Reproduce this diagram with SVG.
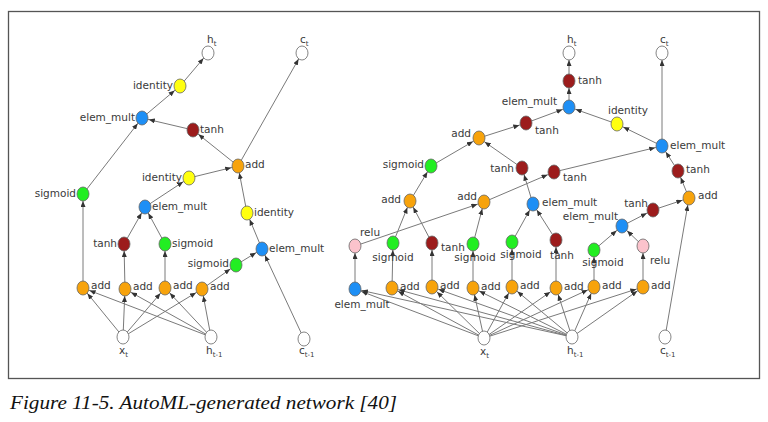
<svg xmlns="http://www.w3.org/2000/svg" width="768" height="422" viewBox="0 0 768 422">
<defs>
<marker id="ah" markerUnits="userSpaceOnUse" markerWidth="6" markerHeight="5" refX="13" refY="2.5" orient="auto">
<path d="M0,0 L6,2.5 L0,5 z" fill="#333"/>
</marker>
<style>
.e line{stroke:#7a7a7a;stroke-width:1;marker-end:url(#ah)}
.n ellipse{stroke:#666;stroke-width:0.8}
.w{fill:#fff}
.o{fill:#f7a30c}
.g{fill:#22ee22}
.r{fill:#9c1c1c}
.b{fill:#1e8ff5}
.y{fill:#ffff10}
.p{fill:#fbc3cc}
text{font-family:"DejaVu Sans",sans-serif;font-size:10.5px;fill:#3a3a3a}
.s{font-size:7px}
.m{text-anchor:middle}
.end{text-anchor:end}
.cap{font-family:"Liberation Serif",serif;font-style:italic;font-size:19px;fill:#111}
</style>
</defs>
<rect x="8.5" y="11.5" width="751" height="367" fill="#fff" stroke="#555" stroke-width="1.3"/>

<g id="connectors" class="e">
<!-- left -->
<line x1="180" y1="86" x2="208" y2="53"/>
<line x1="142" y1="118" x2="180" y2="86"/>
<line x1="193" y1="130" x2="142" y2="118"/>
<line x1="83" y1="194" x2="142" y2="118"/>
<line x1="238" y1="166" x2="193" y2="130"/>
<line x1="238" y1="166" x2="302" y2="53"/>
<line x1="189" y1="178" x2="238" y2="166"/>
<line x1="247" y1="213" x2="238" y2="166"/>
<line x1="145" y1="207" x2="189" y2="178"/>
<line x1="124" y1="244" x2="145" y2="207"/>
<line x1="165" y1="244" x2="145" y2="207"/>
<line x1="262" y1="249" x2="247" y2="213"/>
<line x1="236" y1="265" x2="262" y2="249"/>
<line x1="304" y1="339" x2="262" y2="249"/>
<line x1="83" y1="288" x2="83" y2="194"/>
<line x1="125" y1="289" x2="124" y2="244"/>
<line x1="165" y1="288" x2="165" y2="244"/>
<line x1="202" y1="289" x2="236" y2="265"/>
<line x1="123" y1="337" x2="83" y2="288"/>
<line x1="123" y1="337" x2="125" y2="289"/>
<line x1="123" y1="337" x2="165" y2="288"/>
<line x1="123" y1="337" x2="202" y2="289"/>
<line x1="211" y1="337" x2="83" y2="288"/>
<line x1="211" y1="337" x2="125" y2="289"/>
<line x1="211" y1="337" x2="165" y2="288"/>
<line x1="211" y1="337" x2="202" y2="289"/>
<!-- right -->
<line x1="569" y1="81" x2="569" y2="53"/>
<line x1="569" y1="107" x2="569" y2="81"/>
<line x1="617" y1="124" x2="569" y2="107"/>
<line x1="526" y1="123" x2="569" y2="107"/>
<line x1="662" y1="146" x2="617" y2="124"/>
<line x1="662" y1="146" x2="662" y2="53"/>
<line x1="678" y1="171" x2="662" y2="146"/>
<line x1="689" y1="198" x2="678" y2="171"/>
<line x1="554" y1="172" x2="662" y2="146"/>
<line x1="484" y1="202" x2="554" y2="172"/>
<line x1="355" y1="246" x2="484" y2="202"/>
<line x1="473" y1="244" x2="484" y2="202"/>
<line x1="479" y1="138" x2="526" y2="123"/>
<line x1="431" y1="166" x2="479" y2="138"/>
<line x1="522" y1="168" x2="479" y2="138"/>
<line x1="533" y1="204" x2="522" y2="168"/>
<line x1="410" y1="201" x2="431" y2="166"/>
<line x1="393" y1="243" x2="410" y2="201"/>
<line x1="432" y1="243" x2="410" y2="201"/>
<line x1="512" y1="242" x2="533" y2="204"/>
<line x1="556" y1="240" x2="533" y2="204"/>
<line x1="622" y1="226" x2="653" y2="210"/>
<line x1="653" y1="210" x2="689" y2="198"/>
<line x1="665" y1="337" x2="689" y2="198"/>
<line x1="594" y1="250" x2="622" y2="226"/>
<line x1="643" y1="246" x2="622" y2="226"/>
<line x1="355" y1="289" x2="355" y2="246"/>
<line x1="392" y1="288" x2="393" y2="243"/>
<line x1="432" y1="287" x2="432" y2="243"/>
<line x1="473" y1="288" x2="473" y2="244"/>
<line x1="512" y1="287" x2="512" y2="242"/>
<line x1="556" y1="288" x2="556" y2="240"/>
<line x1="594" y1="287" x2="594" y2="250"/>
<line x1="643" y1="287" x2="643" y2="246"/>
<line x1="484" y1="338" x2="355" y2="289"/>
<line x1="484" y1="338" x2="392" y2="288"/>
<line x1="484" y1="338" x2="432" y2="287"/>
<line x1="484" y1="338" x2="473" y2="288"/>
<line x1="484" y1="338" x2="512" y2="287"/>
<line x1="484" y1="338" x2="556" y2="288"/>
<line x1="484" y1="338" x2="594" y2="287"/>
<line x1="484" y1="338" x2="643" y2="287"/>
<line x1="572" y1="337" x2="355" y2="289"/>
<line x1="572" y1="337" x2="392" y2="288"/>
<line x1="572" y1="337" x2="432" y2="287"/>
<line x1="572" y1="337" x2="473" y2="288"/>
<line x1="572" y1="337" x2="512" y2="287"/>
<line x1="572" y1="337" x2="556" y2="288"/>
<line x1="572" y1="337" x2="594" y2="287"/>
<line x1="572" y1="337" x2="643" y2="287"/>
</g>

<!-- left graph nodes -->
<g id="L_ht" class="n"><ellipse class="w" cx="208" cy="53" rx="6" ry="7"/><text x="207" y="43">h<tspan class="s" dy="3">t</tspan></text></g>
<g id="L_ct" class="n"><ellipse class="w" cx="302" cy="53" rx="6" ry="7"/><text x="300" y="43">c<tspan class="s" dy="3">t</tspan></text></g>
<g id="L_id1" class="n"><ellipse class="y" cx="180" cy="86" rx="6" ry="7"/><text class="end" x="173" y="89">identity</text></g>
<g id="L_em1" class="n"><ellipse class="b" cx="142" cy="118" rx="6" ry="7"/><text class="end" x="135" y="121">elem_mult</text></g>
<g id="L_tanh1" class="n"><ellipse class="r" cx="193" cy="130" rx="6" ry="7"/><text x="200" y="133">tanh</text></g>
<g id="L_add1" class="n"><ellipse class="o" cx="238" cy="166" rx="6" ry="7"/><text x="245" y="168">add</text></g>
<g id="L_id2" class="n"><ellipse class="y" cx="189" cy="178" rx="6" ry="7"/><text class="end" x="182" y="181">identity</text></g>
<g id="L_sig1" class="n"><ellipse class="g" cx="83" cy="194" rx="6" ry="7"/><text class="end" x="76" y="197">sigmoid</text></g>
<g id="L_em2" class="n"><ellipse class="b" cx="145" cy="207" rx="6" ry="7"/><text x="152" y="210">elem_mult</text></g>
<g id="L_id3" class="n"><ellipse class="y" cx="247" cy="213" rx="6" ry="7"/><text x="254" y="216">identity</text></g>
<g id="L_tanh2" class="n"><ellipse class="r" cx="124" cy="244" rx="6" ry="7"/><text class="end" x="117" y="247">tanh</text></g>
<g id="L_sig2" class="n"><ellipse class="g" cx="165" cy="244" rx="6" ry="7"/><text x="172" y="247">sigmoid</text></g>
<g id="L_em3" class="n"><ellipse class="b" cx="262" cy="249" rx="6" ry="7"/><text x="269" y="252">elem_mult</text></g>
<g id="L_sig3" class="n"><ellipse class="g" cx="236" cy="265" rx="6" ry="7"/><text class="end" x="229" y="267">sigmoid</text></g>
<g id="L_a1" class="n"><ellipse class="o" cx="83" cy="288" rx="6" ry="7"/><text x="91" y="289">add</text></g>
<g id="L_a2" class="n"><ellipse class="o" cx="125" cy="289" rx="6" ry="7"/><text x="133" y="290">add</text></g>
<g id="L_a3" class="n"><ellipse class="o" cx="165" cy="288" rx="6" ry="7"/><text x="173" y="289">add</text></g>
<g id="L_a4" class="n"><ellipse class="o" cx="202" cy="289" rx="6" ry="7"/><text x="210" y="290">add</text></g>
<g id="L_xt" class="n"><ellipse class="w" cx="123" cy="337" rx="6" ry="7"/><text x="119" y="354">x<tspan class="s" dy="3">t</tspan></text></g>
<g id="L_ht1" class="n"><ellipse class="w" cx="211" cy="337" rx="6" ry="7"/><text x="206" y="354">h<tspan class="s" dy="3">t-1</tspan></text></g>
<g id="L_ct1" class="n"><ellipse class="w" cx="304" cy="339" rx="6" ry="7"/><text x="299" y="354">c<tspan class="s" dy="3">t-1</tspan></text></g>

<!-- right graph nodes -->
<g id="R_ht" class="n"><ellipse class="w" cx="569" cy="53" rx="6" ry="7"/><text x="567" y="43">h<tspan class="s" dy="3">t</tspan></text></g>
<g id="R_ct" class="n"><ellipse class="w" cx="662" cy="53" rx="6" ry="7"/><text x="660" y="43">c<tspan class="s" dy="3">t</tspan></text></g>
<g id="R_tanh1" class="n"><ellipse class="r" cx="569" cy="81" rx="6" ry="7"/><text x="578" y="84">tanh</text></g>
<g id="R_em1" class="n"><ellipse class="b" cx="569" cy="107" rx="6" ry="7"/><text class="end" x="557" y="105">elem_mult</text></g>
<g id="R_id" class="n"><ellipse class="y" cx="617" cy="124" rx="6" ry="7"/><text x="608" y="114">identity</text></g>
<g id="R_em2" class="n"><ellipse class="b" cx="662" cy="146" rx="6" ry="7"/><text x="670" y="149">elem_mult</text></g>
<g id="R_tanh4" class="n"><ellipse class="r" cx="526" cy="123" rx="6" ry="7"/><text x="535" y="134">tanh</text></g>
<g id="R_add2" class="n"><ellipse class="o" cx="479" cy="138" rx="6" ry="7"/><text class="end" x="471" y="137">add</text></g>
<g id="R_sig1" class="n"><ellipse class="g" cx="431" cy="166" rx="6" ry="7"/><text class="end" x="424" y="168">sigmoid</text></g>
<g id="R_tanh5" class="n"><ellipse class="r" cx="522" cy="168" rx="6" ry="7"/><text class="end" x="514" y="172">tanh</text></g>
<g id="R_tanh3" class="n"><ellipse class="r" cx="554" cy="172" rx="6" ry="7"/><text x="563" y="181">tanh</text></g>
<g id="R_tanh2" class="n"><ellipse class="r" cx="678" cy="171" rx="6" ry="7"/><text x="686" y="173">tanh</text></g>
<g id="R_addR" class="n"><ellipse class="o" cx="689" cy="198" rx="6" ry="7"/><text x="698" y="199">add</text></g>
<g id="R_add3" class="n"><ellipse class="o" cx="410" cy="201" rx="6" ry="7"/><text class="end" x="401" y="203">add</text></g>
<g id="R_add4" class="n"><ellipse class="o" cx="484" cy="202" rx="6" ry="7"/><text class="end" x="477" y="200">add</text></g>
<g id="R_em3" class="n"><ellipse class="b" cx="533" cy="204" rx="6" ry="7"/><text x="542" y="206">elem_mult</text></g>
<g id="R_tanh8" class="n"><ellipse class="r" cx="653" cy="210" rx="6" ry="7"/><text class="end" x="648" y="207">tanh</text></g>
<g id="R_em5" class="n"><ellipse class="b" cx="622" cy="226" rx="6" ry="7"/><text class="end" x="618" y="220">elem_mult</text></g>
<g id="R_relu1" class="n"><ellipse class="p" cx="355" cy="246" rx="6" ry="7"/><text x="360" y="236">relu</text></g>
<g id="R_sig2" class="n"><ellipse class="g" cx="393" cy="243" rx="6" ry="7"/><text class="m" x="393" y="261">sigmoid</text></g>
<g id="R_tanh6" class="n"><ellipse class="r" cx="432" cy="243" rx="6" ry="7"/><text x="441" y="251">tanh</text></g>
<g id="R_sig3" class="n"><ellipse class="g" cx="473" cy="244" rx="6" ry="7"/><text class="m" x="475" y="261">sigmoid</text></g>
<g id="R_sig4" class="n"><ellipse class="g" cx="512" cy="242" rx="6" ry="7"/><text class="m" x="521" y="258">sigmoid</text></g>
<g id="R_tanh7" class="n"><ellipse class="r" cx="556" cy="240" rx="6" ry="7"/><text class="m" x="562" y="259">tanh</text></g>
<g id="R_sig5" class="n"><ellipse class="g" cx="594" cy="250" rx="6" ry="7"/><text class="m" x="603" y="266">sigmoid</text></g>
<g id="R_relu2" class="n"><ellipse class="p" cx="643" cy="246" rx="6" ry="7"/><text x="650" y="264">relu</text></g>
<g id="R_em4" class="n"><ellipse class="b" cx="355" cy="289" rx="6" ry="7"/><text class="m" x="362" y="308">elem_mult</text></g>
<g id="R_add5" class="n"><ellipse class="o" cx="392" cy="288" rx="6" ry="7"/><text x="400" y="290">add</text></g>
<g id="R_add6" class="n"><ellipse class="o" cx="432" cy="287" rx="6" ry="7"/><text x="440" y="289">add</text></g>
<g id="R_add7" class="n"><ellipse class="o" cx="473" cy="288" rx="6" ry="7"/><text x="481" y="290">add</text></g>
<g id="R_add8" class="n"><ellipse class="o" cx="512" cy="287" rx="6" ry="7"/><text x="520" y="289">add</text></g>
<g id="R_add9" class="n"><ellipse class="o" cx="556" cy="288" rx="6" ry="7"/><text x="564" y="290">add</text></g>
<g id="R_add10" class="n"><ellipse class="o" cx="594" cy="287" rx="6" ry="7"/><text x="602" y="289">add</text></g>
<g id="R_add11" class="n"><ellipse class="o" cx="643" cy="287" rx="6" ry="7"/><text x="651" y="289">add</text></g>
<g id="R_xt" class="n"><ellipse class="w" cx="484" cy="338" rx="6" ry="7"/><text x="480" y="355">x<tspan class="s" dy="3">t</tspan></text></g>
<g id="R_ht1" class="n"><ellipse class="w" cx="572" cy="337" rx="6" ry="7"/><text x="567" y="354">h<tspan class="s" dy="3">t-1</tspan></text></g>
<g id="R_ct1" class="n"><ellipse class="w" cx="665" cy="337" rx="6" ry="7"/><text x="660" y="354">c<tspan class="s" dy="3">t-1</tspan></text></g>

<text class="cap" x="10" y="409" textLength="387" lengthAdjust="spacingAndGlyphs">Figure 11-5. AutoML-generated network [40]</text>
</svg>
